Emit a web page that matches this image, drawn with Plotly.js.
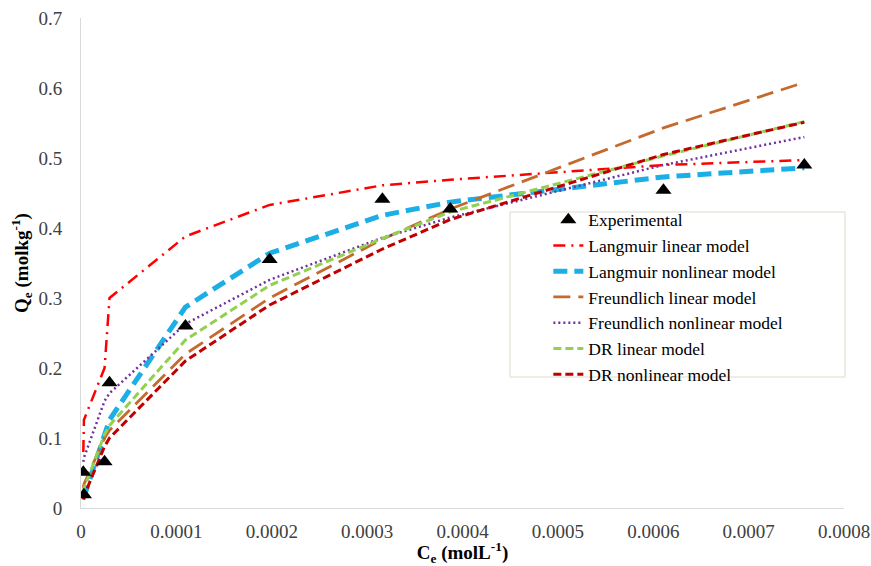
<!DOCTYPE html>
<html><head><meta charset="utf-8">
<script src="https://cdn.plot.ly/plotly-3.0.1.min.js"></script>
<style>html,body{margin:0;padding:0;background:#fff}#chart{width:871px;height:566px}</style>
</head><body><div id="chart"></div>
<script>
const ce = [0.0000024, 0.0000031, 0.0000247, 0.0000299, 0.0001095, 0.0001978, 0.0003160, 0.0003872, 0.0006107, 0.0007584];
const qeExperimental = [0.051, 0.019, 0.066, 0.179, 0.260, 0.355, 0.441, 0.427, 0.454, 0.490];
const langmuirLinear = [0.080, 0.126, 0.200, 0.300, 0.388, 0.433, 0.461, 0.469, 0.490, 0.497];
const langmuirNonlinear = [0.013, 0.016, 0.108, 0.126, 0.287, 0.364, 0.418, 0.437, 0.473, 0.486];
const freundlichLinear = [0.029, 0.034, 0.100, 0.111, 0.220, 0.300, 0.384, 0.427, 0.543, 0.608];
const freundlichNonlinear = [0.066, 0.072, 0.153, 0.164, 0.263, 0.326, 0.386, 0.415, 0.490, 0.530];
const drLinear = [0.022, 0.028, 0.105, 0.118, 0.240, 0.318, 0.385, 0.423, 0.503, 0.552];
const drNonlinear = [0.012, 0.017, 0.088, 0.100, 0.210, 0.290, 0.370, 0.412, 0.505, 0.551];
const seriesNames = ["Experimental", "Langmuir linear model", "Langmuir nonlinear model", "Freundlich linear model", "Freundlich nonlinear model", "DR linear model", "DR nonlinear model"];
const xTickVals = [0, 0.0001, 0.0002, 0.0003, 0.0004, 0.0005, 0.0006, 0.0007, 0.0008];
const xTickText = ["0", "0.0001", "0.0002", "0.0003", "0.0004", "0.0005", "0.0006", "0.0007", "0.0008"];
const yTickVals = [0, 0.1, 0.2, 0.3, 0.4, 0.5, 0.6, 0.7];
const yTickText = ["0", "0.1", "0.2", "0.3", "0.4", "0.5", "0.6", "0.7"];

const serif = "Liberation Serif";
function lineTrace(name, y, color, width, dash, rank) {
  return {x: ce, y: y, name: name, type: 'scatter', mode: 'lines',
    line: {color: color, width: width, dash: dash}, legendrank: rank};
}
const traces = [
  lineTrace(seriesNames[1], langmuirLinear, '#FF0000', 2.5, '12px,6px,2px,6px', 2),
  lineTrace(seriesNames[2], langmuirNonlinear, '#1CAFE5', 5, '14px,7px', 3),
  lineTrace(seriesNames[3], freundlichLinear, '#C46A2E', 2.8, '17px,8px', 4),
  lineTrace(seriesNames[4], freundlichNonlinear, '#7030A0', 2.5, '2px,3px', 5),
  lineTrace(seriesNames[5], drLinear, '#92D050', 3, '8px,4px', 6),
  lineTrace(seriesNames[6], drNonlinear, '#C00000', 3, '8px,4px', 7),
  {x: ce, y: qeExperimental, name: seriesNames[0], type: 'scatter', mode: 'markers',
   marker: {symbol: 'triangle-up', size: 14, color: '#000000'}, legendrank: 1}
];
const layout = {
  width: 871, height: 566,
  margin: {l: 81, r: 27, t: 18, b: 58},
  paper_bgcolor: '#ffffff', plot_bgcolor: '#ffffff',
  font: {family: serif, size: 19, color: '#404040'},
  showlegend: true,
  legend: {x: 0.6125, y: 0.625, xanchor: 'left', yanchor: 'top', bgcolor: 'rgba(0,0,0,0)',
    borderwidth: 0, font: {family: serif, size: 17.5, color: '#000000'}, traceorder: 'normal'},
  shapes: [{type: 'rect', xref: 'paper', yref: 'paper', x0: 0.5622, x1: 1.0013, y0: 0.2673, y1: 0.6041,
    line: {color: '#DCDCCB', width: 1}, fillcolor: '#ffffff', layer: 'below'}],
  xaxis: {range: [0, 0.0008], tickvals: xTickVals, ticktext: xTickText, showgrid: false, zeroline: false,
    showline: true, linecolor: '#D9D9D9', linewidth: 1, ticks: '', ticklabelstandoff: 6,
    ticklabeloverflow: 'allow',
    tickfont: {family: serif, size: 19, color: '#404040'},
    title: {text: '<b>C<sub>e</sub> (molL<sup>-1</sup>)</b>', font: {family: serif, size: 19, color: '#000000'}, standoff: 10}},
  yaxis: {range: [0, 0.7], tickvals: yTickVals, ticktext: yTickText, showgrid: false, zeroline: false,
    showline: true, linecolor: '#D9D9D9', linewidth: 1, ticks: '', ticklabelstandoff: 14,
    tickfont: {family: serif, size: 19, color: '#404040'},
    title: {text: '<b>Q<sub>e</sub> (molkg<sup>-1</sup>)</b>', font: {family: serif, size: 19, color: '#000000'}, standoff: 4}}
};
Plotly.newPlot('chart', traces, layout, {displayModeBar: false, staticPlot: true});
</script>
</body></html>
